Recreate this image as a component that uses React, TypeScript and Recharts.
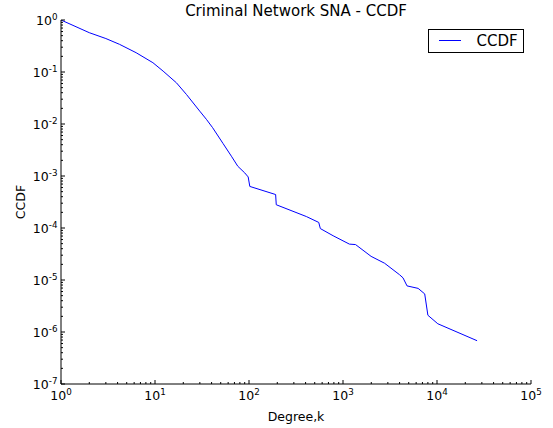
import { LineChart, Line, XAxis, YAxis } from "recharts";

const degrees = [
  1, 2, 3, 4.2, 6.3, 9.5, 12.2, 16.9, 21.6, 29.9, 35.2, 41, 53, 65, 76, 90,
  98, 102, 192, 195, 408, 552, 574, 785, 1170, 1360, 1990, 2770, 4000, 4350,
  4800, 6300, 7400, 8000, 10200, 26700,
];
const ccdf = [
  1, 0.57, 0.44, 0.34, 0.235, 0.151, 0.104, 0.062, 0.037, 0.0177, 0.0123,
  0.0085, 0.0042, 0.0024, 0.00154, 0.00115, 0.00096, 0.00063, 0.00044,
  0.00028, 0.000166, 0.000128, 0.0000975, 0.000071, 0.000049, 0.000048,
  0.0000285, 0.000021, 0.0000126, 0.000011, 0.0000077, 0.0000069, 0.0000054,
  0.0000021, 0.00000144, 0.00000068,
];

const xExponents = [0, 1, 2, 3, 4, 5];
const yExponents = [-7, -6, -5, -4, -3, -2, -1, 0];

const data = degrees.map((k, i) => ({ k, ccdf: ccdf[i] }));

// major ticks at each decade, minor at 2..9 inside each decade
const withMinor = (exps: number[]) => {
  const out: number[] = [];
  exps.forEach((e, i) => {
    out.push(Math.pow(10, e));
    if (i < exps.length - 1) {
      for (let m = 2; m <= 9; m++) out.push(m * Math.pow(10, e));
    }
  });
  return out;
};
const xTicks = withMinor(xExponents);
const yTicks = withMinor(yExponents);

const FONT = "DejaVu Sans, sans-serif";

const expOf = (v: number) => Math.round(Math.log10(v));
const isMajor = (v: number) => Math.abs(Math.log10(v) - expOf(v)) < 1e-6;

const Pow = ({ v }: { v: number }) => (
  <>
    <tspan>10</tspan>
    <tspan fontSize={8.75} dy={-5}>
      {expOf(v)}
    </tspan>
  </>
);

const BottomTick = (props: any) => {
  const { x, y, payload } = props;
  const major = isMajor(payload.value);
  return (
    <g>
      <line x1={x} x2={x} y1={y} y2={y - (major ? 4 : 2)} stroke="#000" />
      {major && (
        <text x={x} y={y + 16} textAnchor="middle" fontSize={12.5} fontFamily={FONT} fill="#000">
          <Pow v={payload.value} />
        </text>
      )}
    </g>
  );
};

const TopTick = (props: any) => {
  const { x, y, payload } = props;
  const major = isMajor(payload.value);
  return <line x1={x} x2={x} y1={y} y2={y + (major ? 4 : 2)} stroke="#000" />;
};

const LeftTick = (props: any) => {
  const { x, y, payload } = props;
  const major = isMajor(payload.value);
  return (
    <g>
      <line x1={x} x2={x + (major ? 4 : 2)} y1={y} y2={y} stroke="#000" />
      {major && (
        <text x={x - 3.5} y={y + 5} textAnchor="end" fontSize={12.5} fontFamily={FONT} fill="#000">
          <Pow v={payload.value} />
        </text>
      )}
    </g>
  );
};

const RightTick = (props: any) => {
  const { x, y, payload } = props;
  const major = isMajor(payload.value);
  return <line x1={x} x2={x - (major ? 4 : 2)} y1={y} y2={y} stroke="#000" />;
};

export default function App() {
  return (
    <div style={{ position: "relative", width: 553, height: 428, background: "#fff" }}>
      <style>{"body{margin:0}"}</style>
      <LineChart
        width={553}
        height={428}
        data={data}
        margin={{ top: 20, right: 22, bottom: 0, left: 0 }}
      >
        <XAxis
          xAxisId="b"
          dataKey="k"
          type="number"
          scale="log"
          domain={[1, 100000]}
          allowDataOverflow
          ticks={xTicks}
          interval={0}
          height={44}
          tickSize={0}
          tickMargin={0}
          tick={<BottomTick />}
          axisLine={{ stroke: "#000" }}
        />
        <XAxis
          xAxisId="t"
          orientation="top"
          dataKey="k"
          type="number"
          scale="log"
          domain={[1, 100000]}
          allowDataOverflow
          ticks={xTicks}
          interval={0}
          height={0}
          tickSize={0}
          tickMargin={0}
          tick={<TopTick />}
          axisLine={{ stroke: "#000" }}
        />
        <YAxis
          yAxisId="l"
          type="number"
          scale="log"
          domain={[1e-7, 1]}
          allowDataOverflow
          ticks={yTicks}
          interval={0}
          width={61}
          tickSize={0}
          tickMargin={0}
          tick={<LeftTick />}
          axisLine={{ stroke: "#000" }}
        />
        <YAxis
          yAxisId="r"
          orientation="right"
          type="number"
          scale="log"
          domain={[1e-7, 1]}
          allowDataOverflow
          ticks={yTicks}
          interval={0}
          width={0}
          tickSize={0}
          tickMargin={0}
          tick={<RightTick />}
          axisLine={{ stroke: "#000" }}
        />
        <Line
          xAxisId="b"
          yAxisId="l"
          type="linear"
          dataKey="ccdf"
          stroke="#0000ff"
          strokeWidth={1}
          dot={false}
          isAnimationActive={false}
        />
      </LineChart>
      <svg
        width={553}
        height={428}
        style={{ position: "absolute", left: 0, top: 0, pointerEvents: "none" }}
        fontFamily={FONT}
      >
        <text x={296} y={15.5} textAnchor="middle" fontSize={15} fill="#000">
          Criminal Network SNA - CCDF
        </text>
        <text x={296} y={421} textAnchor="middle" fontSize={12.5} fill="#000">
          Degree,k
        </text>
        <text
          x={25}
          y={202}
          textAnchor="middle"
          fontSize={12.5}
          fill="#000"
          transform="rotate(-90 25 202)"
        >
          CCDF
        </text>
        <rect x={428.5} y={29.5} width={95} height={23} fill="#fff" stroke="#000" />
        <line x1={439} x2={461} y1={40.5} y2={40.5} stroke="#0000ff" />
        <text x={476.5} y={45.7} fontSize={15} fill="#000">
          CCDF
        </text>
      </svg>
    </div>
  );
}
